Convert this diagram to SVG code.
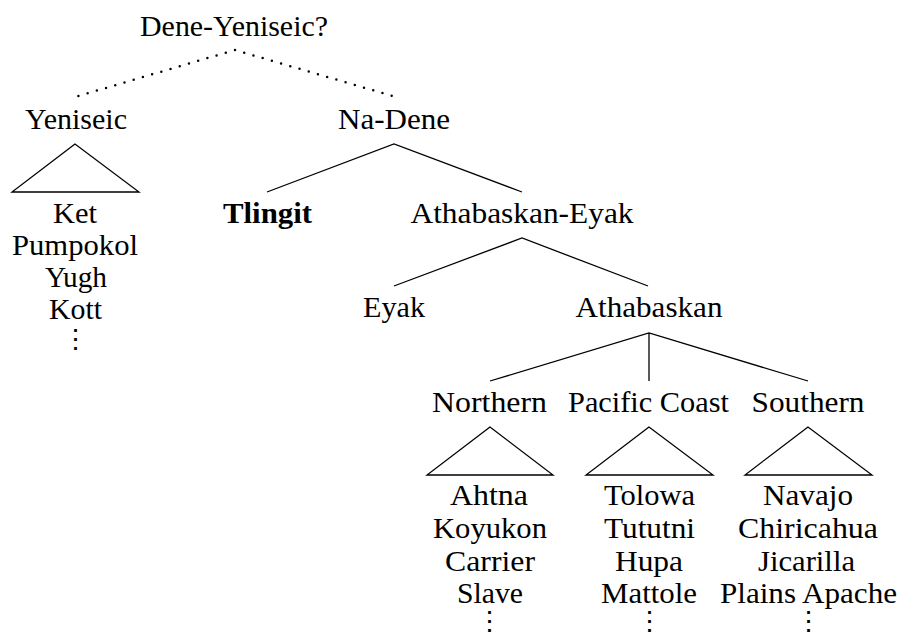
<svg xmlns="http://www.w3.org/2000/svg" width="903" height="639" viewBox="0 0 903 639">
<style>
text{font-family:"Liberation Serif","Times New Roman",serif;font-size:30px;fill:#000;text-anchor:middle}
.b{font-weight:bold}
.dots{font-family:"DejaVu Serif",serif;font-size:27px}
.ln{stroke:#000;stroke-width:1.3;fill:none}
.dot{stroke:#000;stroke-width:2.5;fill:none;stroke-linecap:round;stroke-dasharray:0 9.6}
</style>
<rect width="903" height="639" fill="#fff"/>
<g id="connectors">
<path class="dot" d="M235,50 L75,97 M235,50 L396,97"/>
<path class="ln" d="M75,144 L12,192 L139,192 Z"/>
<path class="ln" d="M267,192 L394,144 L522,192"/>
<path class="ln" d="M394,286 L522,238 L648,286"/>
<path class="ln" d="M490,381 L649,333 L808,381 M649,333 L649,381"/>
<path class="ln" d="M490,427 L427,475 L553,475 Z"/>
<path class="ln" d="M649,427 L586,475 L713,475 Z"/>
<path class="ln" d="M808,427 L745,475 L872,475 Z"/>
</g>
<g id="dene-yeniseic"><text x="234" y="36" textLength="188" lengthAdjust="spacingAndGlyphs">Dene-Yeniseic?</text></g>
<g id="yeniseic"><text x="76" y="129" textLength="102" lengthAdjust="spacingAndGlyphs">Yeniseic</text></g>
<g id="na-dene"><text x="394" y="129" textLength="112" lengthAdjust="spacingAndGlyphs">Na-Dene</text></g>
<g id="yeniseic-langs">
<text x="75" y="223" textLength="44" lengthAdjust="spacingAndGlyphs">Ket</text>
<text x="75" y="255" textLength="126" lengthAdjust="spacingAndGlyphs">Pumpokol</text>
<text x="76" y="287" textLength="62" lengthAdjust="spacingAndGlyphs">Yugh</text>
<text x="75.5" y="319" textLength="53" lengthAdjust="spacingAndGlyphs">Kott</text>
<text class="dots" x="75" y="348">⋮</text>
</g>
<g id="tlingit"><text class="b" x="267.5" y="223" textLength="89" lengthAdjust="spacingAndGlyphs">Tlingit</text></g>
<g id="athabaskan-eyak"><text x="522" y="223" textLength="223" lengthAdjust="spacingAndGlyphs">Athabaskan-Eyak</text></g>
<g id="eyak"><text x="394" y="317" textLength="62" lengthAdjust="spacingAndGlyphs">Eyak</text></g>
<g id="athabaskan"><text x="649" y="317" textLength="147" lengthAdjust="spacingAndGlyphs">Athabaskan</text></g>
<g id="northern"><text x="489.5" y="412" textLength="115" lengthAdjust="spacingAndGlyphs">Northern</text></g>
<g id="pacific-coast"><text x="648.5" y="412" textLength="161" lengthAdjust="spacingAndGlyphs">Pacific Coast</text></g>
<g id="southern"><text x="808" y="412" textLength="113" lengthAdjust="spacingAndGlyphs">Southern</text></g>
<g id="northern-langs">
<text x="489" y="505" textLength="78" lengthAdjust="spacingAndGlyphs">Ahtna</text>
<text x="490" y="538" textLength="114" lengthAdjust="spacingAndGlyphs">Koyukon</text>
<text x="490" y="571" textLength="90" lengthAdjust="spacingAndGlyphs">Carrier</text>
<text x="490" y="603" textLength="66" lengthAdjust="spacingAndGlyphs">Slave</text>
<text class="dots" x="489" y="630">⋮</text>
</g>
<g id="pacific-langs">
<text x="649.5" y="505" textLength="91" lengthAdjust="spacingAndGlyphs">Tolowa</text>
<text x="649.5" y="538" textLength="91" lengthAdjust="spacingAndGlyphs">Tututni</text>
<text x="649" y="571" textLength="68" lengthAdjust="spacingAndGlyphs">Hupa</text>
<text x="649" y="603" textLength="96" lengthAdjust="spacingAndGlyphs">Mattole</text>
<text class="dots" x="649" y="630">⋮</text>
</g>
<g id="southern-langs">
<text x="808" y="505" textLength="90" lengthAdjust="spacingAndGlyphs">Navajo</text>
<text x="808" y="538" textLength="140" lengthAdjust="spacingAndGlyphs">Chiricahua</text>
<text x="806.5" y="571" textLength="97" lengthAdjust="spacingAndGlyphs">Jicarilla</text>
<text x="808.5" y="603" textLength="177" lengthAdjust="spacingAndGlyphs">Plains Apache</text>
<text class="dots" x="808" y="630">⋮</text>
</g>
</svg>
